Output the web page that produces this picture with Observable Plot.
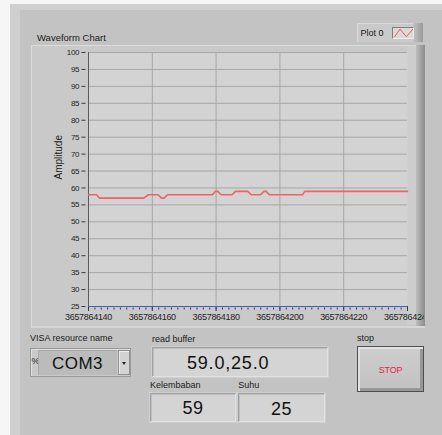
<!DOCTYPE html>
<html>
<head>
<meta charset="utf-8">
<script src="https://cdn.jsdelivr.net/npm/d3@7"></script>
<script src="https://cdn.jsdelivr.net/npm/@observablehq/plot@0.6"></script>
<style>
  body { margin: 0; background: #f6f6f6; }
  #root { position: relative; width: 442px; height: 435px; overflow: hidden; background: #f6f6f6;
          font-family: "Liberation Sans", Arial, sans-serif; color: #1a1a1a; }
  .abs { position: absolute; box-sizing: border-box; }
  .lbl { position: absolute; white-space: nowrap; line-height: 1; }
  .ind { position: absolute; box-sizing: border-box; background: #d4d4d4;
         border: 1px solid; border-color: #a2a2a2 #e2e2e2 #e2e2e2 #a2a2a2;
         box-shadow: inset 1px 1px 0 #bdbdbd, 0 0 0 1px #cfcfcf; }
  .val { position: absolute; white-space: nowrap; line-height: 1; font-size: 18px; color: #111; }
  #chart svg { max-width: none !important; width: 442px; height: 330px; }
  #chart svg g[aria-label="y-axis tick label"] text { letter-spacing: -0.4px; }
  #chart svg g[aria-label="x-axis tick label"] text { letter-spacing: -0.3px; }
</style>
</head>
<body>
<div id="root">
  <!-- window border and panel -->
  <div class="abs" style="left:10px;top:4px;width:432px;height:431px;background:#cfcfcf"></div>
  <div class="abs" style="left:20px;top:10px;width:422px;height:425px;background:#c3c3c3"></div>

  <!-- chart frame -->
  <div class="abs" style="left:31px;top:45px;width:394px;height:283px;background:#c9c9c9;border-top:1px solid #dcdcdc;border-left:1px solid #dcdcdc;border-bottom:2px solid #d6d6d6"></div>
  <div class="abs" style="left:407px;top:46px;width:9px;height:279px;background:#cdcdcd"></div>
  <div class="abs" style="left:416px;top:45px;width:9px;height:281px;background:linear-gradient(to right,#bdbdbd,#a3a3a3 50%,#8c8c8c)"></div>
  <div class="lbl" style="left:37px;top:32.7px;font-size:9.5px">Waveform Chart</div>

  <!-- legend -->
  <div class="abs" style="left:357px;top:23px;width:66px;height:19px;background:#cacaca;border-top:1px solid #dadada;border-left:1px solid #dadada"></div>
  <div class="abs" style="left:413px;top:23px;width:10px;height:19px;background:linear-gradient(to right,#c2c2c2,#9a9a9a)"></div>
  <div class="lbl" style="left:360.5px;top:29.1px;font-size:9px">Plot 0</div>
  <div class="abs" style="left:392px;top:27px;width:22px;height:12px;background:#dadada;border-top:1px solid #7d7d7d;border-left:1px solid #7d7d7d;border-bottom:1px solid #ececec;border-right:1px solid #ececec">
    <svg width="20" height="10" style="position:absolute;left:0;top:0">
      <polyline points="1.5,9 7,1 13.3,8.7 20,1" fill="none" stroke="#ee5a5a" stroke-width="1"/>
    </svg>
  </div>

  <!-- Plot -->
  <div id="chart" class="abs" style="left:0;top:0;width:424px;height:330px;overflow:hidden"></div>

  <!-- VISA resource name -->
  <div class="lbl" style="left:30px;top:334.1px;font-size:9px">VISA resource name</div>
  <div class="abs" style="left:30px;top:348px;width:101px;height:29px;background:#c9c9c9;border:1px solid #999;box-shadow:inset 1px 1px 0 #dedede"></div>
  <div class="lbl" style="left:31.5px;top:357px;font-size:9px;color:#222">%</div>
  <div class="abs" style="left:38px;top:350px;width:79px;height:25px;background:#bbbbbb;border-left:1px solid #a8a8a8;border-top:1px solid #a8a8a8"></div>
  <div class="val" id="com" style="left:38px;width:79px;text-align:center;top:354.9px;font-size:17px;letter-spacing:0.5px"></div>
  <div class="abs" style="left:118px;top:350px;width:12px;height:25px;background:#d3d3d3;border:1px solid #8f8f8f;box-shadow:inset 1px 1px 0 #ececec"></div>
  <div class="abs" style="left:121.5px;top:361.5px;width:0;height:0;border-left:2.5px solid transparent;border-right:2.5px solid transparent;border-top:3px solid #222"></div>

  <!-- read buffer -->
  <div class="lbl" style="left:152px;top:335.4px;font-size:9px">read buffer</div>
  <div class="ind" style="left:152px;top:347px;width:176px;height:30px"></div>
  <div class="val" id="buf" style="left:187px;top:353.8px;letter-spacing:0.8px"></div>

  <!-- Kelembaban / Suhu -->
  <div class="lbl" style="left:150px;top:380.7px;font-size:9px">Kelembaban</div>
  <div class="ind" style="left:150px;top:393px;width:86px;height:29px"></div>
  <div class="val" id="kel" style="left:150px;width:86px;text-align:center;top:399.3px;letter-spacing:0.5px"></div>
  <div class="lbl" style="left:238.3px;top:381px;font-size:9px">Suhu</div>
  <div class="ind" style="left:238px;top:393px;width:87px;height:29px"></div>
  <div class="val" id="suhu" style="left:238px;width:87px;text-align:center;top:399.6px;letter-spacing:0.5px"></div>

  <!-- stop -->
  <div class="lbl" style="left:357px;top:334px;font-size:9px">stop</div>
  <div class="abs" style="left:357px;top:346px;width:67px;height:46px;border:1.5px solid #4e4e4e;background:linear-gradient(#cdcdcd,#c2c2c2);box-shadow:inset 2px 2px 0 #e2e2e2, inset -3px -3px 0 #979797"></div>
  <div class="lbl" style="left:357px;width:67px;text-align:center;top:365.7px;font-size:9px;color:#e8203a;letter-spacing:-0.2px">STOP</div>
</div>

<script>
// ---- data ----
const times = [3657864140, 3657864142.5, 3657864143.5, 3657864157.3, 3657864158.8, 3657864161.8,
               3657864162.9, 3657864163.7, 3657864164.8, 3657864178.8, 3657864179.8, 3657864180.5,
               3657864181.6, 3657864185, 3657864186.1, 3657864189.9, 3657864191, 3657864193.9,
               3657864195, 3657864195.7, 3657864196.7, 3657864207.1, 3657864207.8, 3657864240];
const amplitude = [58, 58, 57, 57, 58, 58,
                   57, 57, 58, 58, 59, 59,
                   58, 58, 59, 59, 58, 58,
                   59, 59, 58, 58, 59, 59];
const xTicks = [3657864140, 3657864160, 3657864180, 3657864200, 3657864220, 3657864240];
const yTicks = [25, 30, 35, 40, 45, 50, 55, 60, 65, 70, 75, 80, 85, 90, 95, 100];
const xDomain = [3657864140, 3657864240];
const yDomain = [25, 100];
const yTitle = "Amplitude";
const visaResource = "COM3";
const readBuffer = "59.0,25.0";
const kelembaban = "59";
const suhu = "25";

document.getElementById("com").textContent = visaResource;
document.getElementById("buf").textContent = readBuffer;
document.getElementById("kel").textContent = kelembaban;
document.getElementById("suhu").textContent = suhu;

const data = times.map((t, i) => ({t, v: amplitude[i]}));
const minorTicks = d3.range(xDomain[0], xDomain[1] + 1, 2);

const chart = Plot.plot({
  width: 442,
  height: 330,
  marginLeft: 88,
  marginRight: 35,
  marginTop: 52,
  marginBottom: 24,
  style: {background: "transparent", fontFamily: "'Liberation Sans', Arial, sans-serif", fontSize: "8px", color: "#1e1e1e", overflow: "visible", maxWidth: "none"},
  x: {domain: xDomain, axis: null},
  y: {domain: yDomain, axis: null},
  marks: [
    Plot.frame({fill: "#d3d3d3", stroke: null}),
    Plot.gridY(yTicks, {stroke: "#a7a7a7", strokeOpacity: 1}),
    Plot.gridX(xTicks.slice(1, -1), {stroke: "#a7a7a7", strokeOpacity: 1}),
    Plot.axisY(yTicks, {anchor: "left", tickSize: 4, dx: -2.5, tickPadding: 3, fontSize: 8, label: null, stroke: "#3a3a3a"}),
    Plot.axisX(minorTicks, {anchor: "bottom", tickSize: 2, dy: 1.5, tickFormat: () => "", label: null, stroke: "#3a3a3a"}),
    Plot.axisX(xTicks, {anchor: "bottom", tickSize: 5, tickPadding: 2.5, tickFormat: d => String(d), fontSize: 9, label: null, stroke: "#3a3a3a"}),
    Plot.ruleX([xDomain[0]], {stroke: "#5a5a5a"}),
    Plot.ruleY([yDomain[0]], {stroke: "#3b5fd0"}),
    Plot.line(data, {x: "t", y: "v", stroke: "#ee6464", strokeWidth: 1.6}),
    Plot.text([yTitle], {frameAnchor: "left", dx: -30, rotate: -90, fontSize: 10, fill: "#1e1e1e"})
  ]
});
document.getElementById("chart").appendChild(chart);
</script>
</body>
</html>
